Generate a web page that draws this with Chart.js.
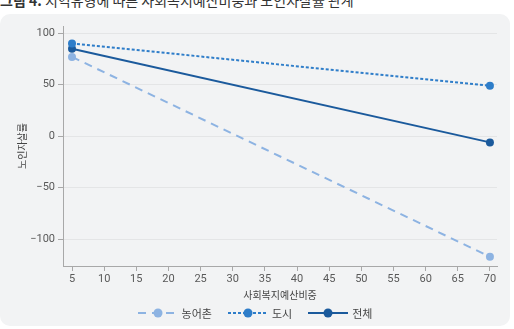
<!DOCTYPE html>
<html>
<head>
<meta charset="utf-8">
<script src="https://cdn.jsdelivr.net/npm/chart.js@4"></script>
<style>
  body { margin: 0; width: 514px; height: 329px; background: #fff; overflow: hidden; position: relative;
         font-family: "Noto Sans CJK KR", "Noto Sans", sans-serif; }
  #title { position: absolute; left: 0; top: -10px; font-size: 14px; color: #333; white-space: nowrap; }
  #panel { position: absolute; left: 0; top: 14px; width: 510px; height: 312px; background: #f2f3f4; border-radius: 10px; }
  #legend { position: absolute; left: 0; top: 291px; width: 510px; text-align: center; font-size: 11px; color: #444; }
  #legend span.item { display: inline-flex; align-items: center; margin: 0 8px; }
  #legend svg { margin-right: 4px; }
</style>
</head>
<body>
<div id="title"><b>그림 4.</b> 지역유형에 따른 사회복지예산비중과 노인자살률 관계</div>
<div id="panel">
  <canvas id="chart" width="510" height="312"></canvas>
  <div id="legend"></div>
</div>
<script>
const budgetShare = [5, 70];
const rural = [77, -117];
const urban = [90, 49];
const total = [85, -6];
const seriesNames = ['농어촌', '도시', '전체'];
const xTicks = [5, 10, 15, 20, 25, 30, 35, 40, 45, 50, 55, 60, 65, 70];
const yTicks = [-100, -50, 0, 50, 100];

const colors = ['#8db3e2', '#2e7dc9', '#1b5a9c'];
const dashes = [[8, 6], [3, 2], []];

const toPoints = (vals) => vals.map((v, i) => ({ x: budgetShare[i], y: v }));

const datasets = [rural, urban, total].map((vals, i) => ({
    label: seriesNames[i],
    data: toPoints(vals),
    borderColor: colors[i],
    backgroundColor: colors[i],
    borderWidth: 2,
    borderDash: dashes[i],
    pointRadius: 4,
    pointHoverRadius: 4,
    pointBorderWidth: 0
}));

const tickFont = { family: 'Roboto, "Noto Sans CJK KR", sans-serif', size: 11 };

new Chart(document.getElementById('chart'), {
    type: 'line',
    data: { datasets },
    options: {
        responsive: false,
        animation: false,
        layout: { padding: { left: 0, right: 13, top: 12, bottom: 25 } },
        plugins: { legend: { display: false }, tooltip: { enabled: false } },
        scales: {
            x: {
                type: 'linear',
                min: 3.6,
                max: 71.1,
                afterBuildTicks: (s) => { s.ticks = xTicks.map(v => ({ value: v })); },
                afterFit: (s) => { s.height = 35; },
                border: { color: '#a8a8a8' },
                grid: { drawOnChartArea: false, tickLength: 5, color: '#a8a8a8' },
                ticks: { color: '#595959', font: tickFont, padding: 2, maxRotation: 0 },
                title: { display: true, text: '사회복지예산비중', color: '#444',
                         font: { family: '"Noto Sans CJK KR"', size: 10 }, padding: { top: 2, bottom: 0 } }
            },
            y: {
                min: -126,
                max: 107,
                afterBuildTicks: (s) => { s.ticks = yTicks.map(v => ({ value: v })); },
                afterFit: (s) => { s.width = 63; },
                border: { color: '#a8a8a8' },
                grid: { color: '#e4e5e6', tickColor: '#a8a8a8', tickLength: 5 },
                ticks: { color: '#595959', font: tickFont, padding: 3,
                         callback: (v) => v < 0 ? '\u2212' + Math.abs(v) : v },
                title: { display: true, text: '노인자살률', color: '#444',
                         font: { family: '"Noto Sans CJK KR"', size: 10 }, padding: { top: 16, bottom: 0 } }
            }
        }
    }
});

// legend with line + point samples
const legend = document.getElementById('legend');
seriesNames.forEach((name, i) => {
    const dash = dashes[i].length ? `stroke-dasharray="${dashes[i].join(',')}"` : '';
    legend.innerHTML += `<span class="item"><svg width="40" height="10">
      <line x1="0" y1="5" x2="40" y2="5" stroke="${colors[i]}" stroke-width="2" ${dash}/>
      <circle cx="20" cy="5" r="4.5" fill="${colors[i]}"/></svg>${name}</span>`;
});
</script>
</body>
</html>
